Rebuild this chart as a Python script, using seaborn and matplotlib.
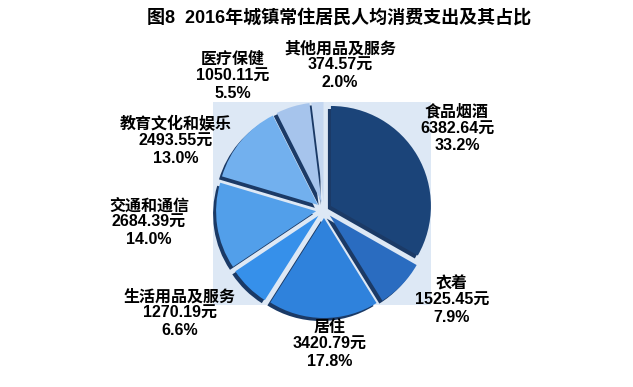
import matplotlib
matplotlib.use("Agg")
import matplotlib.pyplot as plt
from matplotlib.patches import Rectangle
import seaborn as sns

categories = ["食品烟酒", "衣着", "居住", "生活用品及服务", "交通和通信",
              "教育文化和娱乐", "医疗保健", "其他用品及服务"]
amounts = [6382.64, 1525.45, 3420.79, 1270.19, 2684.39, 2493.55, 1050.11, 374.57]
shares = ["33.2%", "7.9%", "17.8%", "6.6%", "14.0%", "13.0%", "5.5%", "2.0%"]
title = "图8  2016年城镇常住居民人均消费支出及其占比"

colors = sns.color_palette(["#1b4479", "#2a6cc0", "#2f82dc", "#3690ea",
                            "#529fea", "#72b0ee", "#a6c4ec", "#c4d7f1"])

sns.set_theme(style="white")
plt.rcParams["font.family"] = ["Liberation Sans", "Noto Sans CJK SC", "DejaVu Sans"]

W, H = 633, 387
fig = plt.figure(figsize=(W / 100, H / 100), dpi=100)
fig.patch.set_facecolor("white")

cx, cy, R = 324, 210, 100
ax = fig.add_axes([0, 0, 1, 1])
ax.set_facecolor("none")
ax.axis("off")

# light blue plot-area background
ax.add_patch(Rectangle(((213 - cx) / R, (cy - 305) / R), (431 - 213) / R, (305 - 102) / R,
                       facecolor="#dde8f5", edgecolor="none", zorder=-5))

explode = [0.08] * len(amounts)
# darker side of the slices (pseudo 3D)
ax.pie(amounts, startangle=90, counterclock=False, explode=explode,
       colors=["#1b3a66"] * len(amounts), center=(-0.03, -0.03),
       wedgeprops=dict(linewidth=0))
ax.pie(amounts, startangle=90, counterclock=False, explode=explode,
       colors=colors, wedgeprops=dict(linewidth=0))
ax.set_xlim(-cx / R, (W - cx) / R)
ax.set_ylim(-(H - cy) / R, cy / R)
ax.set_aspect("equal")

# label anchor positions (pixels, centre of the first line)
label_pos = [(457, 113), (452, 285), (330, 329), (180, 298),
             (149, 207), (176, 125), (233, 61), (340, 50)]
for cat, amt, sh, (px, py) in zip(categories, amounts, shares, label_pos):
    fig.text(px / W, 1 - (py - 9) / H, f"{cat}\n{amt:.2f}元\n{sh}",
             ha="center", va="top", fontsize=11.5, fontweight="bold",
             linespacing=1.15, color="black")

fig.text(339 / W, 1 - 18 / H, title, ha="center", va="center",
         fontsize=13, fontweight="bold", color="black")

fig.savefig("out.png", dpi=100)
